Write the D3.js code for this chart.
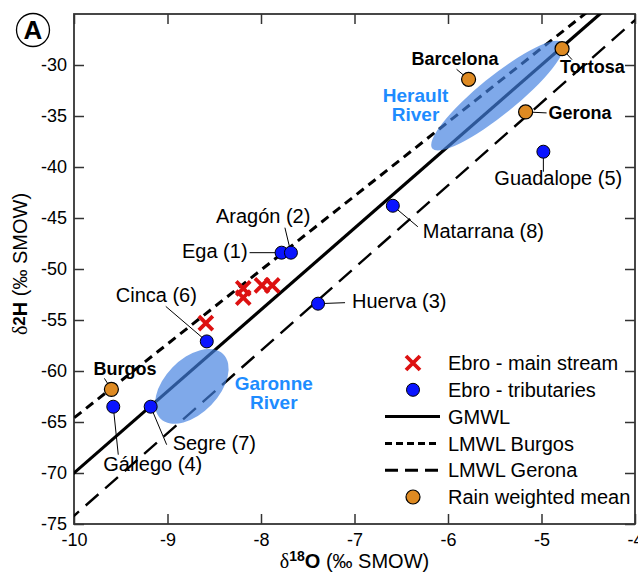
<!DOCTYPE html>
<html>
<head>
<meta charset="utf-8" />
<title>d2H vs d18O</title>
<style>
    body { margin: 0; background: #fff; }
    svg text { font-family: 'Liberation Sans', Arial, sans-serif; }
    .tick text { font-size: 18px; fill: #000; }
    .tick line { stroke: #333; stroke-width: 1.5px; }
</style>
</head>
<body>
<div id="chart"></div>
<script src="https://d3js.org/d3.v7.min.js"></script>
<script>
// ---- data ----
var xTicks = [-10, -9, -8, -7, -6, -5, -4];
var yTicks = [-75, -70, -65, -60, -55, -50, -45, -40, -35, -30];

// Ebro main stream (d18O, d2H)
var mainO = [-8.59, -8.19, -8.19, -7.99, -7.88];
var mainH = [-55.3, -51.9, -52.8, -51.6, -51.6];

// Ebro tributaries
var tribNames = ["Ega (1)", "Aragón (2)", "Huerva (3)", "Gállego (4)", "Guadalope (5)", "Cinca (6)", "Segre (7)", "Matarrana (8)"];
var tribO = [-7.78, -7.68, -7.39, -9.58, -4.98, -8.58, -9.18, -6.59];
var tribH = [-48.4, -48.4, -53.4, -63.5, -38.5, -57.1, -63.5, -43.8];

// rain weighted means
var rainNames = ["Burgos", "Barcelona", "Tortosa", "Gerona"];
var rainO = [-9.60, -5.78, -4.78, -5.17];
var rainH = [-61.8, -31.4, -28.4, -34.6];

// meteoric water lines: d2H = slope * d18O + intercept
var lineNames = ["GMWL", "LMWL Burgos", "LMWL Gerona"];
var lineSlope = [8, 7.25, 8.1];
var lineIntercept = [10, 7.9, 6.8];

// river fields (ellipse centres)
var riverNames = ["Herault River", "Garonne River"];
var riverO = [-5.47, -8.74];
var riverH = [-33.0, -61.5];

// ---- layout ----
var W = 638, H = 575;
var margin = {top: 14, right: 3, bottom: 51, left: 74};
var iw = W - margin.left - margin.right;
var ih = H - margin.top - margin.bottom;

var svg = d3.select("#chart").append("svg").attr("width", W).attr("height", H);
var g = svg.append("g").attr("transform", "translate(" + margin.left + "," + margin.top + ")");

var x = d3.scaleLinear().domain([-10, -4]).range([0, iw]);
var y = d3.scaleLinear().domain([-75, -25]).range([ih, 0]);
var fmt = function(d) { return String(d); };

svg.append("defs").append("clipPath").attr("id", "plotclip")
    .append("rect").attr("width", iw).attr("height", ih);

// axes with inward ticks
g.append("g").attr("transform", "translate(0," + ih + ")")
    .call(d3.axisBottom(x).tickValues(xTicks).tickFormat(fmt).tickSize(-10).tickSizeOuter(0).tickPadding(9))
    .call(function(a) { a.select(".domain").remove(); });
g.append("g")
    .call(d3.axisLeft(y).tickValues(yTicks).tickFormat(fmt).tickSize(-10).tickSizeOuter(0).tickPadding(7))
    .call(function(a) { a.select(".domain").remove(); });
g.append("g")
    .call(d3.axisTop(x).tickValues(xTicks).tickSize(-10).tickSizeOuter(0).tickFormat(""))
    .call(function(a) { a.select(".domain").remove(); });
g.append("g").attr("transform", "translate(" + iw + ",0)")
    .call(d3.axisRight(y).tickValues(yTicks).tickSize(-10).tickSizeOuter(0).tickFormat(""))
    .call(function(a) { a.select(".domain").remove(); });

g.append("rect").attr("width", iw).attr("height", ih)
    .attr("fill", "none").attr("stroke", "#333").attr("stroke-width", 1.8);

// water lines
var lineStyles = [
    {dash: null, w: 3.2},
    {dash: "9,6", w: 3},
    {dash: "17,9", w: 2.4}
];
var lineLayer = g.append("g").attr("clip-path", "url(#plotclip)");
lineNames.forEach(function(n, i) {
    var xs = [-10.5, -3.5];
    lineLayer.append("line")
        .attr("x1", x(xs[0])).attr("y1", y(lineSlope[i] * xs[0] + lineIntercept[i]))
        .attr("x2", x(xs[1])).attr("y2", y(lineSlope[i] * xs[1] + lineIntercept[i]))
        .attr("stroke", "#000").attr("stroke-width", lineStyles[i].w)
        .attr("stroke-dasharray", lineStyles[i].dash);
});

// river ellipses
var riverShape = [
    {rx: 84, ry: 19, rot: -39, lx: -82, ly: 6},
    {rx: 45, ry: 27, rot: -46, lx: 82, ly: 4}
];
riverNames.forEach(function(n, i) {
    var cx = x(riverO[i]), cy = y(riverH[i]);
    g.append("ellipse")
        .attr("transform", "translate(" + cx + "," + cy + ") rotate(" + riverShape[i].rot + ")")
        .attr("rx", riverShape[i].rx).attr("ry", riverShape[i].ry)
        .attr("fill", "rgb(66,128,224)").attr("fill-opacity", 0.68);
    var parts = n.split(" ");
    var t = g.append("text")
        .attr("x", cx + riverShape[i].lx).attr("y", cy + riverShape[i].ly)
        .attr("text-anchor", "middle")
        .style("font-size", "19px").style("font-weight", "bold")
        .attr("fill", "#1e8cff");
    t.append("tspan").attr("x", cx + riverShape[i].lx).text(parts[0]);
    t.append("tspan").attr("x", cx + riverShape[i].lx).attr("dy", 19).text(parts[1]);
});

// label placement: text offset (dx, dy, anchor) and leader end (lx, ly)
var tribLabel = [
    {dx: -34, dy: 5, a: "end", lx: -32, ly: 0},
    {dx: -75, dy: -30, a: "start", lx: -6, ly: -25},
    {dx: 34, dy: 4, a: "start", lx: 27, ly: -1},
    {dx: -10, dy: 64, a: "start", lx: 5, ly: 48},
    {dx: -49, dy: 33, a: "start", lx: 0, ly: 20},
    {dx: -91, dy: -39, a: "start", lx: -41, ly: -35},
    {dx: 22, dy: 43, a: "start", lx: 16, ly: 38},
    {dx: 30, dy: 32, a: "start", lx: 25, ly: 21}
];
var rainLabel = [
    {dx: -18, dy: -14, a: "start", lx: -7, ly: -11},
    {dx: -57, dy: -14, a: "start", lx: -12, ly: -10},
    {dx: -2, dy: 24, a: "start", lx: 10, ly: 11},
    {dx: 23, dy: 7, a: "start", lx: 21, ly: 1}
];

var leaders = g.append("g").attr("stroke", "#000").attr("stroke-width", 1);
tribNames.forEach(function(n, i) {
    var px = x(tribO[i]), py = y(tribH[i]);
    leaders.append("line").attr("x1", px).attr("y1", py)
        .attr("x2", px + tribLabel[i].lx).attr("y2", py + tribLabel[i].ly);
});
rainNames.forEach(function(n, i) {
    var px = x(rainO[i]), py = y(rainH[i]);
    leaders.append("line").attr("x1", px).attr("y1", py)
        .attr("x2", px + rainLabel[i].lx).attr("y2", py + rainLabel[i].ly);
});

// markers
var red = "#dd1111", blue = "#0a14ff", orange = "#de8a22";
function cross(sel, cx, cy) {
    var s = 7;
    sel.append("path")
        .attr("d", "M" + (cx - s) + "," + (cy - s) + "L" + (cx + s) + "," + (cy + s) +
                   "M" + (cx - s) + "," + (cy + s) + "L" + (cx + s) + "," + (cy - s))
        .attr("stroke", red).attr("stroke-width", 3.8).attr("fill", "none");
}
mainO.forEach(function(o, i) { cross(g, x(o), y(mainH[i])); });

g.selectAll("circle.trib").data(tribO).enter().append("circle")
    .attr("class", "trib")
    .attr("cx", function(d) { return x(d); })
    .attr("cy", function(d, i) { return y(tribH[i]); })
    .attr("r", 6.5).attr("fill", blue).attr("stroke", "#000").attr("stroke-width", 1);

g.selectAll("circle.rain").data(rainO).enter().append("circle")
    .attr("class", "rain")
    .attr("cx", function(d) { return x(d); })
    .attr("cy", function(d, i) { return y(rainH[i]); })
    .attr("r", 7).attr("fill", orange).attr("stroke", "#000").attr("stroke-width", 1.2);

// point labels
tribNames.forEach(function(n, i) {
    g.append("text").attr("x", x(tribO[i]) + tribLabel[i].dx).attr("y", y(tribH[i]) + tribLabel[i].dy)
        .attr("text-anchor", tribLabel[i].a).style("font-size", "20px").text(n);
});
rainNames.forEach(function(n, i) {
    g.append("text").attr("x", x(rainO[i]) + rainLabel[i].dx).attr("y", y(rainH[i]) + rainLabel[i].dy)
        .attr("text-anchor", rainLabel[i].a).style("font-size", "18px").style("font-weight", "bold").text(n);
});

// legend
var legend = svg.append("g").attr("transform", "translate(385,363)");
var rowH = 26.8;
var legendItems = ["Ebro - main stream", "Ebro - tributaries"].concat(lineNames).concat(["Rain weighted mean"]);
legendItems.forEach(function(n, i) {
    var ly = i * rowH;
    if (i === 0) cross(legend, 28, ly);
    else if (i === 1) legend.append("circle").attr("cx", 28).attr("cy", ly).attr("r", 6.5)
        .attr("fill", blue).attr("stroke", "#000");
    else if (i === 5) legend.append("circle").attr("cx", 28).attr("cy", ly).attr("r", 7)
        .attr("fill", orange).attr("stroke", "#000").attr("stroke-width", 1.2);
    else legend.append("line").attr("x1", 0).attr("x2", 55).attr("y1", ly).attr("y2", ly)
        .attr("stroke", "#000").attr("stroke-width", 3)
        .attr("stroke-dasharray", i === 3 ? "7,4" : (i === 4 ? "13,7" : null));
    legend.append("text").attr("x", 63).attr("y", ly).attr("dy", "0.36em")
        .style("font-size", "20px").text(n);
});

// axis titles
var xt = svg.append("text").attr("x", margin.left + iw / 2).attr("y", 568)
    .attr("text-anchor", "middle").style("font-size", "20px");
xt.append("tspan").style("font-family", "'Liberation Serif', serif").text("δ");
xt.append("tspan").attr("dy", -7).style("font-size", "14px").style("font-weight", "bold").text("18");
xt.append("tspan").attr("dy", 7).style("font-weight", "bold").text("O");
xt.append("tspan").text(" (‰ SMOW)");

var yt = svg.append("text").attr("transform", "translate(27," + (margin.top + ih / 2 - 5) + ") rotate(-90)")
    .attr("text-anchor", "middle").style("font-size", "20px");
yt.append("tspan").style("font-family", "'Liberation Serif', serif").text("δ");
yt.append("tspan").attr("dy", -2).style("font-weight", "bold").style("font-size", "17px").text("2");
yt.append("tspan").attr("dy", 2).style("font-weight", "bold").text("H");
yt.append("tspan").text(" (‰ SMOW)");

// panel letter
svg.append("circle").attr("cx", 33).attr("cy", 30).attr("r", 16.5)
    .attr("fill", "none").attr("stroke", "#000").attr("stroke-width", 1.3);
svg.append("text").attr("x", 33).attr("y", 30).attr("dy", "0.36em").attr("text-anchor", "middle")
    .style("font-size", "26px").style("font-weight", "bold").text("A");
</script>
</body>
</html>
